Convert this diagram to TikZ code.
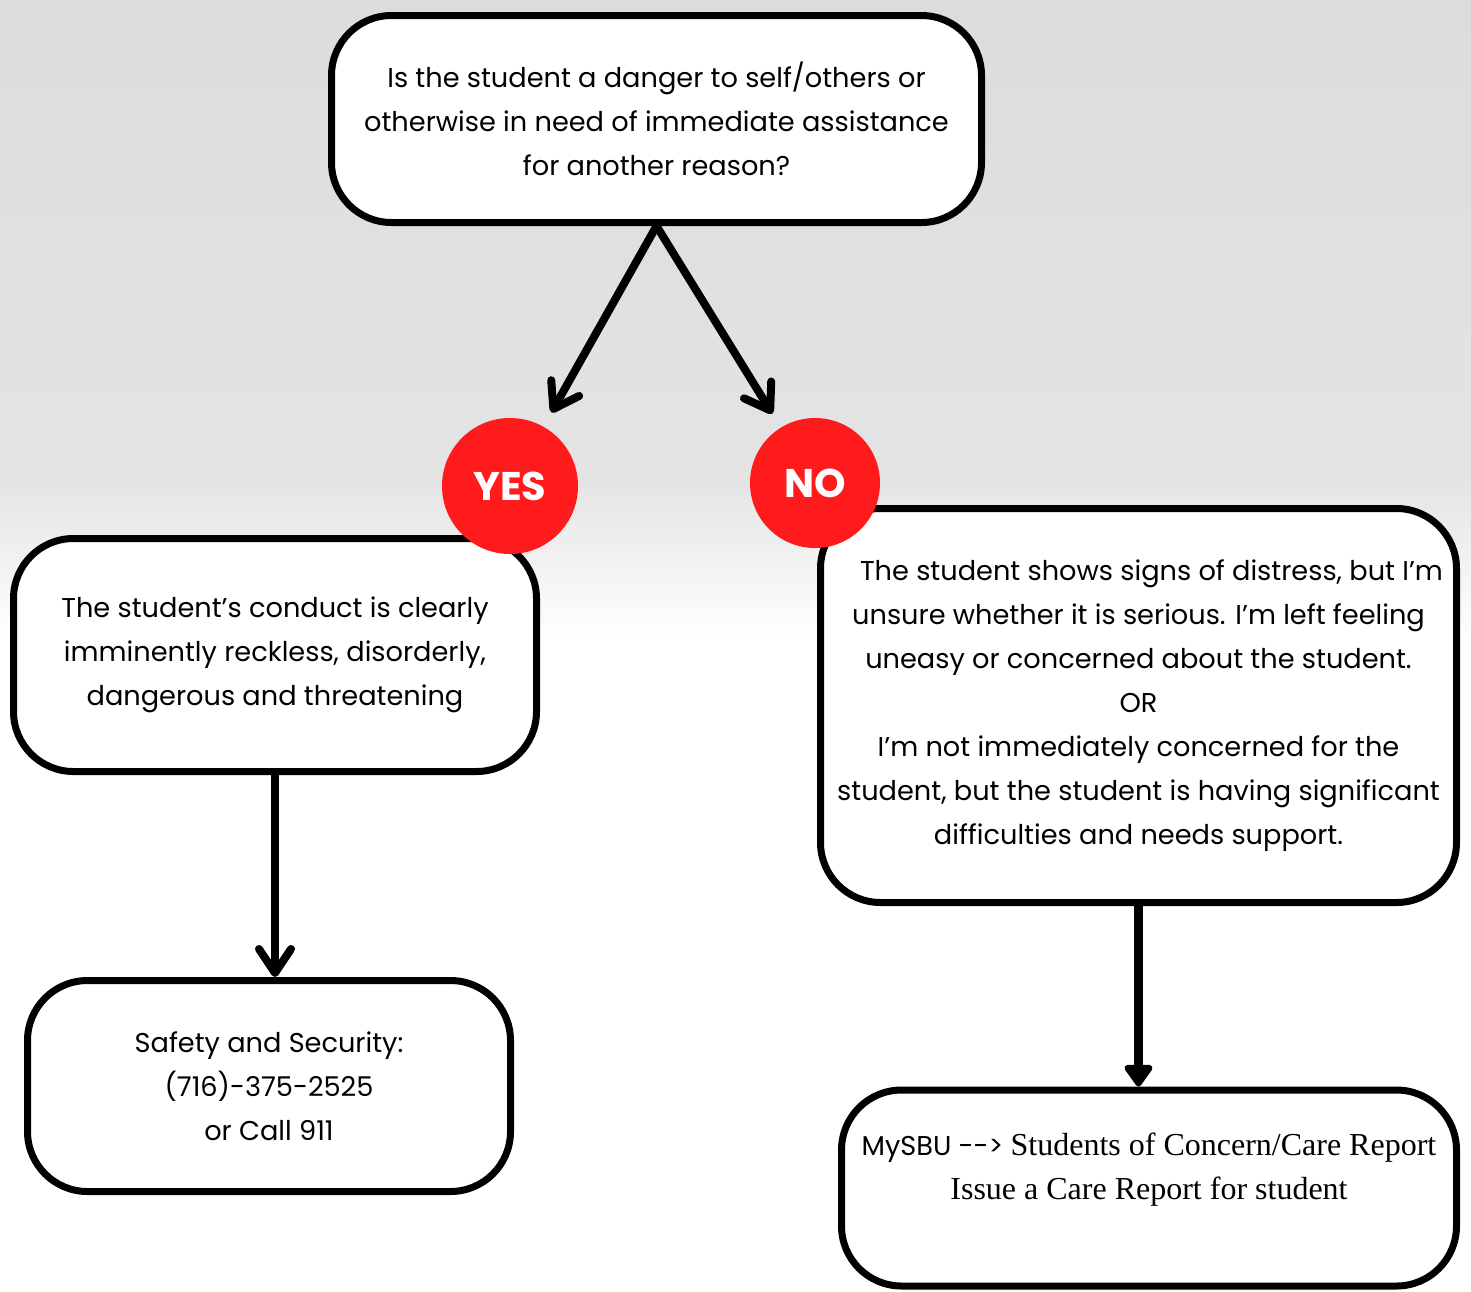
\documentclass[tikz,border=0pt]{standalone}
\usepackage{fontspec}
\newfontfamily\glacial{Poppins}
\newfontfamily\reportserif{Liberation Serif}
\usetikzlibrary{positioning}
\usetikzlibrary{arrows.meta}
\definecolor{alertred}{RGB}{255,27,28}
\definecolor{bgtop}{RGB}{220,220,220}
\definecolor{bgmid}{RGB}{228,228,228}

\begin{document}
\begin{tikzpicture}[x=0.5pt, y=-0.5pt,
        box/.style={draw, line width=3.5pt, rounded corners=30pt, fill=white, align=center, inner sep=0pt,
            font=\glacial\fontsize{13.6pt}{22pt}\selectfont},
        answer/.style={circle, fill=alertred, text=white, inner sep=0pt,
            font=\glacial\bfseries\fontsize{20pt}{20pt}\selectfont},
        barb/.style={line width=4pt, -{Straight Barb[length=12pt, width=16pt, round]}},
        solidhead/.style={line width=4.5pt, -{Triangle[length=12pt, width=16pt, round]}}]
        \useasboundingbox (0,0) rectangle (1471,1291);
        \fill[white] (0,0) rectangle (1471,1291);
        \shade[top color=bgtop, bottom color=bgmid] (0,0) rectangle (1471,480);
        \shade[top color=bgmid, bottom color=white] (0,480) rectangle (1471,640);

        \node[box, minimum width=325pt, minimum height=103.5pt] (question) at (656.5,119)
            {Is the student a danger to self/others or\\otherwise in need of immediate assistance\\for another reason?};
        \node[box, minimum width=261.5pt, minimum height=116.5pt] (conduct) at (275,655)
            {The student’s conduct is clearly\\imminently reckless, disorderly,\\dangerous and threatening};
        \node[box, minimum width=241.5pt, minimum height=105.5pt] (security) at (269,1086)
            {Safety and Security:\\(716)-375-2525\\or Call 911};
        \node[box, minimum width=318pt, minimum height=197pt] (distress) at (1138.5,705.5)
            {\hspace*{13pt}The student shows signs of distress, but I’m\\unsure whether it is serious. I’m left feeling\\uneasy or concerned about the student.\\OR\\I’m not immediately concerned for the\\student, but the student is having significant\\difficulties and needs support.};
        \node[box, minimum width=307.5pt, minimum height=98pt] (report) at (1149,1188)
            {MySBU -{}-> {\reportserif\fontsize{16pt}{22pt}\selectfont Students of Concern/Care Report}\\{\reportserif\fontsize{16pt}{22pt}\selectfont Issue a Care Report for student}\\[-7pt] \strut};

        \node[answer, minimum size=68pt] (yes) at (510,486) {YES};
        \node[answer, minimum size=65pt] (no) at (815,483) {NO};

        \draw[barb, shorten >=8pt] (question.south) -- (yes);
        \draw[barb, shorten >=8pt] (question.south) -- (no);
        \draw[barb] (conduct.south) -- (conduct.south |- security.north);
        \draw[solidhead] (distress.south) -- (distress.south |- report.north);
    \end{tikzpicture}
\end{document}
